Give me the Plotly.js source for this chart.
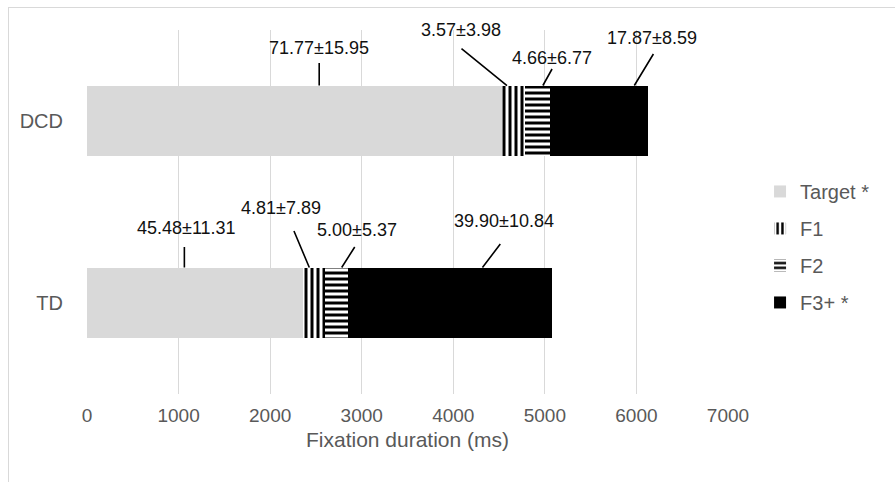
<!DOCTYPE html>
<html>
<head>
<meta charset="utf-8">
<script src="https://cdn.plot.ly/plotly-3.0.1.min.js"></script>
<style>
  html, body { margin: 0; padding: 0; width: 895px; height: 482px; overflow: hidden; background: #fff; }
  #chart { position: absolute; left: 0; top: 0; width: 895px; height: 482px; }
  #frame { position: absolute; left: 8px; top: 7px; width: 1000px; height: 1000px; border: 1.5px solid #d9d9d9; pointer-events: none; }
</style>
</head>
<body>
<div id="chart"></div>
<div id="frame"></div>
<script>
// ---- data ----
const groups = ['TD', 'DCD'];                 // bottom -> top
const seriesNames = ['Target *', 'F1', 'F2', 'F3+ *'];
const targetMs = [2363, 4528];
const f1Ms = [240, 254];
const f2Ms = [251, 273];
const f3Ms = [2219, 1072];
const targetLabels = ['45.48±11.31', '71.77±15.95'];
const f1Labels = ['4.81±7.89', '3.57±3.98'];
const f2Labels = ['5.00±5.37', '4.66±6.77'];
const f3Labels = ['39.90±10.84', '17.87±8.59'];
const xTicks = [0, 1000, 2000, 3000, 4000, 5000, 6000, 7000];

// ---- styling ----
const BAR_W = 0.39;
const series = [
  { name: seriesNames[0], x: targetMs, labels: targetLabels, marker: { color: '#d9d9d9', line: { width: 0 } } },
  { name: seriesNames[1], x: f1Ms, labels: f1Labels, marker: { color: 'white', line: { width: 0 }, pattern: { shape: '|', fgcolor: 'black', bgcolor: 'white', size: 6, solidity: 0.5 } } },
  { name: seriesNames[2], x: f2Ms, labels: f2Labels, marker: { color: 'white', line: { width: 0 }, pattern: { shape: '-', fgcolor: 'black', bgcolor: 'white', size: 6, solidity: 0.5 } } },
  { name: seriesNames[3], x: f3Ms, labels: f3Labels, marker: { color: 'black', line: { width: 0 } } }
];

// leader placement per series per group: [fraction along segment, tail dx, tail dy, text dx, text dy]
const leaders = [
  [[0.45, 0, -22, 2, -40], [0.56, 0, -24, 0, -38]],
  [[0.27, -16, -38, -28, -60], [0.23, -47, -38, -46, -56]],
  [[0.71, 14, -22, 15, -38], [0.72, 10, -18, 9, -28]],
  [[0.66, 19, -25, 22, -47], [0.86, 20, -33, 18, -48]]
];

const traces = series.map((s, i) => ({
  type: 'bar', orientation: 'h', name: s.name, y: groups, x: s.x,
  width: BAR_W, marker: s.marker, legendgroup: 'g' + i, hoverinfo: 'x+name'
}));

const annotations = [];
const cum = groups.map(() => 0);
series.forEach((s, i) => {
  groups.forEach((g, gi) => {
    const L = leaders[i][gi];
    const hx = cum[gi] + L[0] * s.x[gi];
    const hy = gi + BAR_W / 2;
    annotations.push({ x: hx, y: hy, xref: 'x', yref: 'y', text: '', showarrow: true,
      arrowhead: 0, arrowwidth: 1.6, arrowcolor: '#000', ax: L[1], ay: L[2], standoff: 0 });
    annotations.push({ x: hx, y: hy, xref: 'x', yref: 'y', text: s.labels[gi], showarrow: false,
      xshift: L[3], yshift: -L[4], font: { family: 'Liberation Sans, Arial, sans-serif', size: 18, color: '#111' } });
    cum[gi] += s.x[gi];
  });
});

const layout = {
  width: 895, height: 482,
  margin: { l: 87, r: 167, t: 30, b: 88 },
  paper_bgcolor: 'rgba(0,0,0,0)', plot_bgcolor: 'white',
  barmode: 'stack',
  font: { family: 'Liberation Sans, Arial, sans-serif', color: '#595959' },
  xaxis: {
    range: [0, 7000], tickvals: xTicks, showgrid: true, gridcolor: '#d9d9d9', gridwidth: 1,
    zeroline: false, showline: false, ticks: '', ticklabelstandoff: 8,
    tickfont: { size: 19, color: '#595959' },
    title: { text: 'Fixation duration (ms)', font: { size: 21, color: '#595959' }, standoff: 7 }
  },
  yaxis: {
    type: 'category', categoryorder: 'array', categoryarray: groups, range: [-0.5, 1.5],
    showgrid: false, zeroline: false, showline: false, ticks: '', ticklabelstandoff: 23,
    tickfont: { size: 20, color: '#595959' }
  },
  showlegend: true,
  legend: {
    x: 1.05, xanchor: 'left', y: 0.61, yanchor: 'top', traceorder: 'grouped', tracegroupgap: 8,
    font: { size: 20, color: '#595959' }, bgcolor: 'rgba(0,0,0,0)', itemwidth: 30
  },
  annotations: annotations
};

Plotly.newPlot('chart', traces, layout, { displayModeBar: false, staticPlot: true });
</script>
</body>
</html>
